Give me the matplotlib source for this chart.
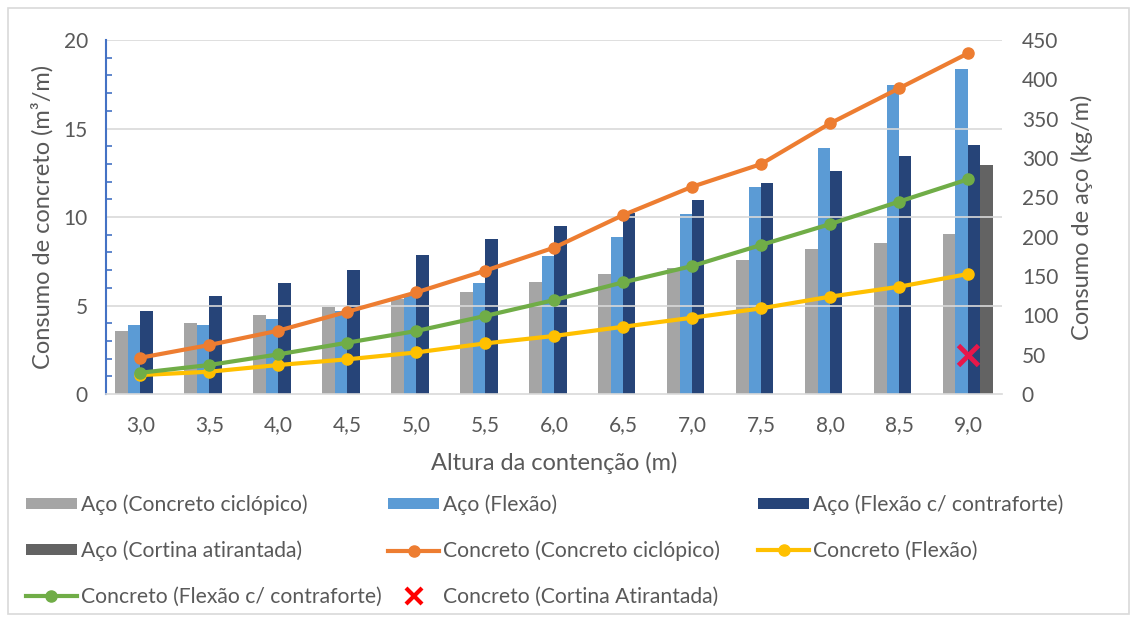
import matplotlib.pyplot as plt
import numpy as np
from matplotlib.lines import Line2D
from matplotlib.patches import Rectangle

plt.rcParams['font.family'] = ['Lato', 'DejaVu Sans']

alturas = ['3,0', '3,5', '4,0', '4,5', '5,0', '5,5', '6,0', '6,5', '7,0', '7,5', '8,0', '8,5', '9,0']

# aco (kg/m) - eixo direito
aco_ciclopico = [80, 90, 101, 111, 121, 130, 142, 152, 160, 171, 184, 192, 203]
aco_flexao = [88, 88, 96, 105, 126, 141, 175, 200, 229, 263, 313, 393, 413]
aco_contraforte = [106, 124, 141, 158, 177, 197, 213, 230, 247, 268, 284, 302, 316]
aco_cortina = [0, 0, 0, 0, 0, 0, 0, 0, 0, 0, 0, 0, 291]

# concreto (m3/m) - eixo esquerdo
conc_ciclopico = [2.05, 2.77, 3.58, 4.65, 5.74, 6.97, 8.27, 10.11, 11.71, 12.99, 15.29, 17.27, 19.25]
conc_flexao = [1.07, 1.26, 1.64, 1.96, 2.35, 2.86, 3.28, 3.80, 4.31, 4.84, 5.50, 6.06, 6.78]
conc_contraforte = [1.20, 1.64, 2.24, 2.90, 3.56, 4.41, 5.31, 6.31, 7.23, 8.42, 9.60, 10.87, 12.13]
conc_cortina = 2.2  # apenas em 9,0

cinza = '#A5A5A5'
azul = '#5B9BD5'
azul_esc = '#264478'
cinza_esc = '#636363'
laranja = '#ED7D31'
amarelo = '#FFC000'
verde = '#70AD47'
txt = '#595959'

fig = plt.figure(figsize=(11.32, 6.21), dpi=100)
fig.patches.append(Rectangle((0.007, 0.011), 0.99, 0.976, transform=fig.transFigure,
                             fill=False, edgecolor='#D9D9D9', linewidth=1.2))

ax = fig.add_axes([0.0935, 0.3655, 0.792, 0.570])
ax2 = ax.twinx()

x = np.arange(len(alturas))
w = 0.18
b1 = ax2.bar(x - 1.5 * w, aco_ciclopico, w, color=cinza)
b2 = ax2.bar(x - 0.5 * w, aco_flexao, w, color=azul)
b3 = ax2.bar(x + 0.5 * w, aco_contraforte, w, color=azul_esc)
b4 = ax2.bar(x + 1.5 * w, aco_cortina, w, color=cinza_esc)

# linhas por cima das barras
ax.set_zorder(ax2.get_zorder() + 1)
ax.patch.set_visible(False)
l1, = ax.plot(x, conc_ciclopico, color=laranja, lw=3, marker='o', ms=8)
l2, = ax.plot(x, conc_flexao, color=amarelo, lw=3, marker='o', ms=8)
l3, = ax.plot(x, conc_contraforte, color=verde, lw=3, marker='o', ms=8)
ax.plot([x[-1]], [conc_cortina], ls='none', marker='x', ms=14, mew=3.5, color='#E8174A')

ax.set_xlim(-0.5, 12.5)
ax.set_ylim(0, 20)
ax2.set_ylim(0, 450)
ax.set_yticks([0, 5, 10, 15, 20])
ax.set_yticks(np.arange(0, 21, 1), minor=True)
ax2.set_yticks(np.arange(0, 451, 50))
ax.set_xticks(x)
ax.set_xticklabels(alturas)

for v in [5, 10, 15, 20]:
    ax.axhline(v, color='#D9D9D9', lw=1.2, zorder=0)

for a in (ax, ax2):
    for s in a.spines.values():
        s.set_visible(False)
ax.spines['left'].set_visible(True)
ax.spines['left'].set_color('#4472C4')
ax.spines['left'].set_linewidth(1.5)
ax.spines['bottom'].set_visible(True)
ax.spines['bottom'].set_color('#D9D9D9')
ax.spines['bottom'].set_linewidth(1.2)

ax.tick_params(axis='y', which='both', direction='in', colors='#4472C4', labelcolor=txt, labelsize=15, pad=13)
ax.tick_params(axis='y', which='major', length=0)
ax.tick_params(axis='y', which='minor', length=4, width=1.2)
ax.tick_params(axis='x', length=0, labelcolor=txt, labelsize=15, pad=15)
ax2.tick_params(axis='y', length=0, labelcolor=txt, labelsize=15, pad=14)

ax.set_xlabel('Altura da contenção (m)', color=txt, fontsize=17, labelpad=12)
ax.set_ylabel('Consumo de concreto (m³/m)', color=txt, fontsize=17, labelpad=7)
ax2.set_ylabel('Consumo de aço (kg/m)', color=txt, fontsize=17, labelpad=9)

# legenda em 3 colunas, como no Excel
xis = Line2D([], [], ls='none', marker='x', ms=11, mew=3, color='#FF0000')
colunas = [
    (0.023, [b1, b4, l3], ['Aço (Concreto ciclópico)', 'Aço (Cortina atirantada)',
                           'Concreto (Flexão c/ contraforte)']),
    (0.343, [b2, l1, xis], ['Aço (Flexão)', 'Concreto (Concreto ciclópico)',
                            'Concreto (Cortina Atirantada)']),
    (0.670, [b3, l2], ['Aço (Flexão c/ contraforte)', 'Concreto (Flexão)']),
]
for xpos, hs, ls in colunas:
    leg = fig.legend(hs, ls, loc='upper left', bbox_to_anchor=(xpos, 0.204), frameon=False,
                     fontsize=15.2, labelcolor=txt, handlelength=2.4, handleheight=0.45,
                     handletextpad=0.2, labelspacing=1.22, borderpad=0, borderaxespad=0)

fig.savefig('out.png', dpi=100)
